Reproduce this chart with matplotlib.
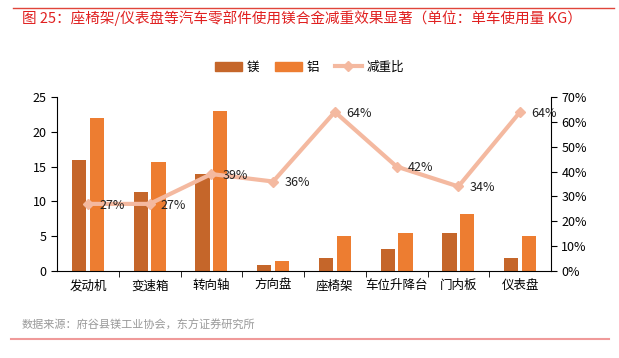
import matplotlib.pyplot as plt
import numpy as np
from matplotlib.lines import Line2D

plt.rcParams['font.family'] = ['Noto Sans CJK SC', 'DejaVu Sans']

parts = ['发动机', '变速箱', '转向轴', '方向盘', '座椅架', '车位升降台', '门内板', '仪表盘']
mg = [16, 11.4, 14, 0.9, 1.8, 3.2, 5.4, 1.8]
al = [22, 15.6, 23, 1.4, 5, 5.5, 8.2, 5]
ratio = [27, 27, 39, 36, 64, 42, 34, 64]

c_mg = '#C5662A'
c_al = '#ED7D31'
c_line = '#F4B9A0'

fig = plt.figure(figsize=(6.19, 3.58), dpi=100)
ax = fig.add_axes([57/619, 1-271/358, 494/619, 174/358])
ax2 = ax.twinx()

x = np.arange(len(parts))
w = 0.23
ax.bar(x - 0.145, mg, w, color=c_mg, label='镁')
ax.bar(x + 0.145, al, w, color=c_al, label='铝')
ax2.plot(x, ratio, color=c_line, lw=3, marker='D', ms=5, label='减重比')
for xi, r in zip(x, ratio):
    ax2.annotate(f'{r}%', (xi, r), xytext=(8, -1), textcoords='offset points',
                 fontsize=9, color='#222222', va='center', ha='left')

ax.set_xlim(-0.5, len(parts) - 0.5)
ax.set_ylim(0, 25)
ax.set_yticks(range(0, 26, 5))
ax2.set_ylim(0, 70)
ax2.set_yticks(range(0, 71, 10))
ax2.set_yticklabels([f'{v}%' for v in range(0, 71, 10)])
ax.set_xticks(x)
ax.set_xticklabels(parts)
ax.set_xticks(np.arange(0.5, len(parts) - 0.5), minor=True)
ax.tick_params(axis='x', which='major', length=0, labelsize=9, pad=6)
ax.tick_params(axis='x', which='minor', length=4, direction='out')
ax.tick_params(axis='y', labelsize=9, length=4)
ax2.tick_params(axis='y', labelsize=9, length=4)

for a in (ax, ax2):
    a.spines['top'].set_visible(False)
    a.patch.set_visible(False)
ax2.spines['left'].set_visible(False)
ax2.spines['right'].set_visible(True)
ax.spines['right'].set_visible(False)
ax2.spines['bottom'].set_visible(False)

handles = [plt.Rectangle((0, 0), 1, 1, color=c_mg),
           plt.Rectangle((0, 0), 1, 1, color=c_al),
           Line2D([0], [0], color=c_line, lw=3, marker='D', ms=5)]
fig.legend(handles, ['镁', '铝', '减重比'], loc='center', bbox_to_anchor=(0.5, 1-67/358),
           ncol=3, frameon=False, fontsize=9, handlelength=2.2, columnspacing=1.2,
           handletextpad=0.4)

# header / footer
fig.add_artist(Line2D([13/619, 614/619], [1-8/358, 1-8/358], color='#E0453A', lw=1))
fig.text(22/619, 1-18/358, '图 25：座椅架/仪表盘等汽车零部件使用镁合金减重效果显著（单位：单车使用量 KG）',
         color='#E02020', fontsize=10.5, va='center', ha='left')
fig.text(22/619, 1-325/358, '数据来源：府谷县镁工业协会，东方证券研究所',
         color='#999999', fontsize=8, va='center', ha='left')
fig.add_artist(Line2D([11/619, 609/619], [1-339/358, 1-339/358], color='#F09A9A', lw=1.5))

fig.savefig('out.png', dpi=100)
